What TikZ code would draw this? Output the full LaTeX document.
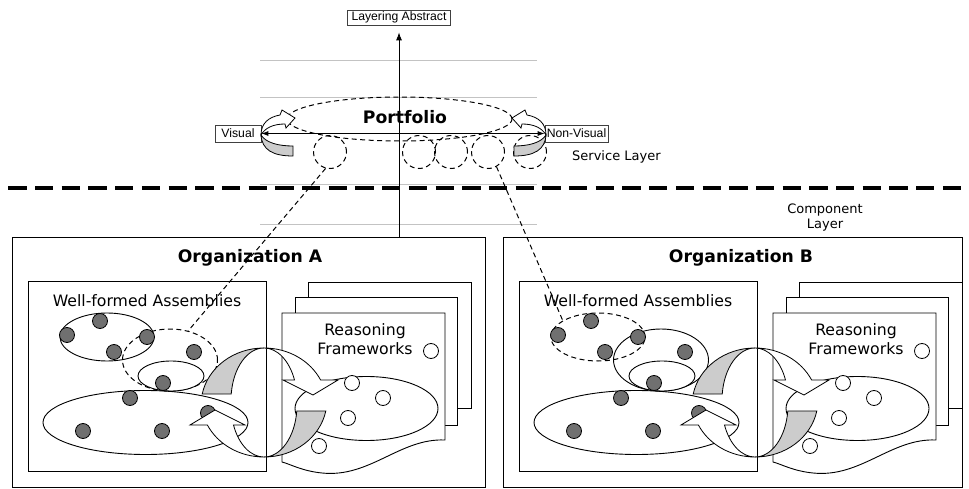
\documentclass[tikz,border=0pt]{standalone}
\usepackage{fontspec}
\setmainfont{DejaVu Sans}
\newfontfamily\arialfont{Liberation Sans}
\usetikzlibrary{arrows.meta,shapes.geometric}
\definecolor{dotgray}{RGB}{112,112,112}
\definecolor{bandgray}{RGB}{204,204,204}
\definecolor{rulegray}{RGB}{195,195,195}
\newcommand\labfont{\fontsize{15.7}{18}\selectfont}
\newcommand\smallfont{\fontsize{13}{15}\selectfont}
\newcommand\titlefont{\bfseries\fontsize{17.2}{20}\selectfont}
\tikzset{
  outline/.style={line width=0.9pt},
  thindash/.style={dash pattern=on 5pt off 3.5pt, line width=1pt},
  tagbox/.style={draw=black!75, line width=0.7pt, inner sep=0pt, font=\arialfont\fontsize{12.2}{14}\selectfont},
  oval/.style={ellipse, draw, line width=0.9pt, inner sep=0pt},
  solidoval/.style={},
  dashoval/.style={thindash},
  dot/.style={circle, draw, fill=dotgray, minimum size=15, inner sep=0pt, line width=0.8pt},
  hollow/.style={circle, draw, fill=white, minimum size=15, inner sep=0pt, line width=0.8pt},
  band/.style={draw, line width=0.8pt, fill=bandgray},
  face/.style={draw, line width=0.8pt, fill=white},
  orgframe/.style={draw, line width=0.9pt, inner sep=0pt},
  rtxt/.style={anchor=base, inner sep=0pt, font=\labfont},
}
% rotating arrow around the Visual / Non-Visual axis
\newcommand\spinner{%
  \draw[band] (261,135) .. controls (262,150) and (273,156) .. (293,156) -- (293,146)
    .. controls (279,146) and (266,143) .. (261,135) -- cycle;
  \draw[face] (261,135) .. controls (261,123) and (269,117) .. (280,115) -- (282,110) -- (295,118)
    -- (286,128) -- (285,124) .. controls (273,124) and (265,128) .. (261,135) -- cycle;
}
% one half of the exchange cycle (gray inner face + white arrow)
\newcommand\ringhalf{%
  \draw[band] (-61.8,-8.5) arc[start angle=191.1, end angle=270, x radius=63, y radius=57]
    arc[start angle=270, end angle=186.6, x radius=33, y radius=52] -- cycle;
  \draw[face] (0,-54.5) arc[start angle=270, end angle=334, x radius=63, y radius=57]
    -- (74,-22.5) -- (49,-7.5) -- (19,-22.5) -- (30.5,-22.5)
    arc[start angle=337.4, end angle=270, x radius=33, y radius=52] -- cycle;
}
% contents of one organization: #1 name, #2/#3 styles of the two upper sets, #4 x offset
\newcommand\orgunit[4]{%
\begin{scope}[shift={(#4,0)}]
  \node[orgframe, minimum width=238, minimum height=190] (wfa#1) at (147,376.5) {};
  \node[rtxt] (wfat#1) at (147,306) {Well-formed Assemblies};
  % stacked reasoning framework sheets
  \draw[face, line width=0.9pt] (308,282) rectangle (471,408);
  \draw[face, line width=0.9pt] (295,297) rectangle (457,425);
  \draw[face, line width=0.9pt] (282,313) -- (445,313) -- (445,440)
    .. controls (400,438) and (370,478) .. (322,473)
    .. controls (302,471) and (290,464) .. (282,462) -- cycle;
  \node[rtxt] (rfa#1) at (365,335) {Reasoning};
  \node[rtxt] (rfb#1) at (365,354) {Frameworks};
  \node[hollow] (rc#1) at (431,351) {};
  \node[oval, minimum width=143, minimum height=64] (rel#1) at (366.5,408.5) {};
  \foreach \n/\px/\py in {1/352/383, 2/383/398, 3/348/418, 4/319/446}
    \node[hollow] (r#1\n) at (\px,\py) {};
  % assemblies
  \node[oval, #2, minimum width=94, minimum height=48] (tl#1) at (107,337) {};
  \node[oval, #3, minimum width=95, minimum height=62] (md#1) at (170,360) {};
  \node[oval, fill=white, minimum width=66, minimum height=30] (sm#1) at (171,376) {};
  \node[oval, minimum width=205, minimum height=64] (big#1) at (145.5,422.5) {};
  \foreach \n/\px/\py in {1/100/321, 2/67/335, 3/147/337, 4/114/352, 5/194/352,
                          6/163/383, 7/130/398, 8/83/431, 9/162/431, 10/208/413}
    \node[dot] (d#1\n) at (\px,\py) {};
  % exchange cycle
  \begin{scope}[shift={(264,402.5)}] \ringhalf \end{scope}
  \begin{scope}[shift={(264,402.5)}, rotate=180] \ringhalf \end{scope}
\end{scope}}

\begin{document}
\begin{tikzpicture}[x=1pt, y=-1pt]
\useasboundingbox (0,0) rectangle (969,489);

% guide rules
\foreach \yy in {60,97,184,224}
  \draw[rulegray, line width=0.8pt] (260,\yy) -- (537,\yy);

% layer separator
\draw[line width=4pt, dash pattern=on 18.3pt off 8.4pt, dash phase=18.4pt] (0,188) -- (969,188);

% labels of the service layer
\node[tagbox, minimum width=103, minimum height=15] (la) at (399,17.5) {Layering Abstract};
\node[tagbox, minimum width=46, minimum height=17] (vis) at (238,133.5) {Visual};
\node[tagbox, minimum width=63, minimum height=17] (nvis) at (576.5,133.5) {Non-Visual};

\node[oval, thindash, minimum width=225, minimum height=44] (port) at (399.5,119) {};
\node[anchor=base, inner sep=0pt, font=\titlefont] (ptxt) at (405,123.3) {Portfolio};

\foreach \n/\cx in {1/330, 2/419, 3/451, 4/488, 5/530}
  \node[circle, draw, thindash, minimum size=33, inner sep=0pt] (c\n) at (\cx,152) {};

\spinner
\begin{scope}[shift={(807,0)}, xscale=-1] \spinner \end{scope}

\draw[line width=0.9pt, {Latex[length=7pt,width=5pt]}-{Latex[length=7pt,width=5pt]}] (vis) -- (nvis);

\node[anchor=base west, inner sep=0pt, font=\smallfont] (svc) at (572,161) {Service Layer};
\node[anchor=base, inner sep=0pt, font=\smallfont] (cmpa) at (825,214) {Component};
\node[anchor=base, inner sep=0pt, font=\smallfont] (cmpb) at (825,229) {Layer};

% organizations
\node[orgframe, minimum width=473, minimum height=250] (orgA) at (248.5,362) {};
\node[orgframe, minimum width=459, minimum height=250] (orgB) at (732.5,362) {};
\node[anchor=base, inner sep=0pt, font=\titlefont] (ttlA) at (250,262.5) {Organization A};
\node[anchor=base, inner sep=0pt, font=\titlefont] (ttlB) at (741,262.5) {Organization B};

\draw[line width=0.9pt, -{Latex[length=8pt,width=6pt]}, shorten >=7pt] (la.south |- orgA.north) -- (la.south);

\orgunit{A}{solidoval}{dashoval}{0}
\orgunit{B}{dashoval}{solidoval}{491}

% links from services to the assemblies that provide them
\draw[thindash] (c1.-105) -- (mdA.58);
\draw[thindash] (c4.-60) -- (tlB.155);
\end{tikzpicture}
\end{document}
